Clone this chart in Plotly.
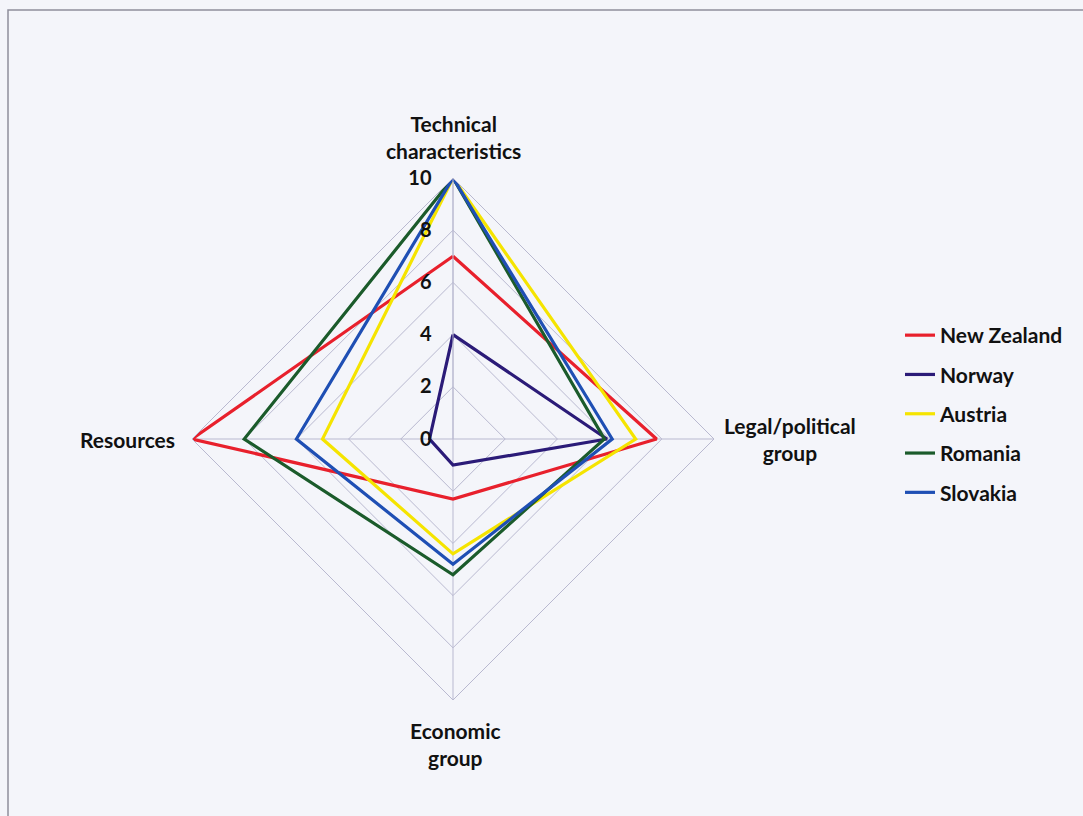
import plotly.graph_objects as go

# Criteria around the radar, clockwise from the top
categories = ["Technical characteristics", "Legal/political group", "Economic group", "Resources"]
axis_labels = ["Technical<br>characteristics", "Legal/political<br>group", "Economic<br>group", "Resources"]

# Scores per country, in the order of `categories`
new_zealand = [7, 7.8, 2.3, 10]
norway = [4, 5.9, 1, 0.9]
austria = [10, 7, 4.4, 5]
romania = [10, 5.8, 5.2, 8]
slovakia = [10, 6.1, 4.8, 6]

series = [
    ("New Zealand", new_zealand, "#e8202c"),
    ("Norway", norway, "#2b1b78"),
    ("Austria", austria, "#f5e400"),
    ("Romania", romania, "#1b5b2b"),
    ("Slovakia", slovakia, "#1f4fb4"),
]

W, H = 1083, 816
cx, cy, R = 453, 439, 261  # chart centre and radius in pixels

fig = go.Figure()
for i, (name, vals, color) in enumerate(series):
    fig.add_trace(go.Scatterpolar(
        r=vals + vals[:1],
        theta=categories + categories[:1],
        mode="lines",
        name=name,
        legendgroup=f"g{i}",
        line=dict(color=color, width=3.2),
    ))

font_family = "Lato, 'Open Sans', sans-serif"
grid_col = "#b9b9d0"

fig.update_layout(
    width=W, height=H,
    margin=dict(l=0, r=0, t=0, b=0),
    paper_bgcolor="#f4f5fa",
    font=dict(family=font_family, color="#111111", size=20),
    polar=dict(
        domain=dict(x=[(cx - R) / W, (cx + R) / W], y=[(H - cy - R) / H, (H - cy + R) / H]),
        bgcolor="rgba(0,0,0,0)",
        gridshape="linear",
        radialaxis=dict(
            range=[0, 10], dtick=2, angle=90, side="counterclockwise",
            tickangle=90,
            showline=True, linecolor=grid_col, linewidth=1,
            gridcolor=grid_col, gridwidth=1,
            ticks="outside", ticklen=14, tickcolor="rgba(0,0,0,0)",
            tickfont=dict(size=20, family=font_family, color="#111111", weight="bold"),
        ),
        angularaxis=dict(
            rotation=90, direction="clockwise",
            showline=True, linecolor=grid_col, linewidth=1,
            gridcolor=grid_col, gridwidth=1,
            showticklabels=False, ticks="",
        ),
    ),
    legend=dict(
        x=900 / W, y=1 - 315 / H, xanchor="left", yanchor="top",
        bgcolor="rgba(0,0,0,0)",
        font=dict(size=21, family=font_family, color="#111111", weight="bold"),
        tracegroupgap=9,
        itemwidth=30,
    ),
    showlegend=True,
)

# Category labels placed around the outer vertices
label_pos = [(453, 137), (790, 439), (455, 744), (127, 439)]
for text, (px, py) in zip(axis_labels, label_pos):
    fig.add_annotation(
        x=px / W, y=1 - py / H, xref="paper", yref="paper",
        text=text, showarrow=False,
        font=dict(size=21, family=font_family, color="#111111", weight="bold"),
        xanchor="center", yanchor="middle", align="center",
    )

# Page frame
fig.add_shape(type="rect", xref="paper", yref="paper",
              x0=8 / W, x1=1100 / W, y0=1 - 840 / H, y1=1 - 10 / H,
              line=dict(color="#8f8f9c", width=1.5))

fig.write_html("out.html")
